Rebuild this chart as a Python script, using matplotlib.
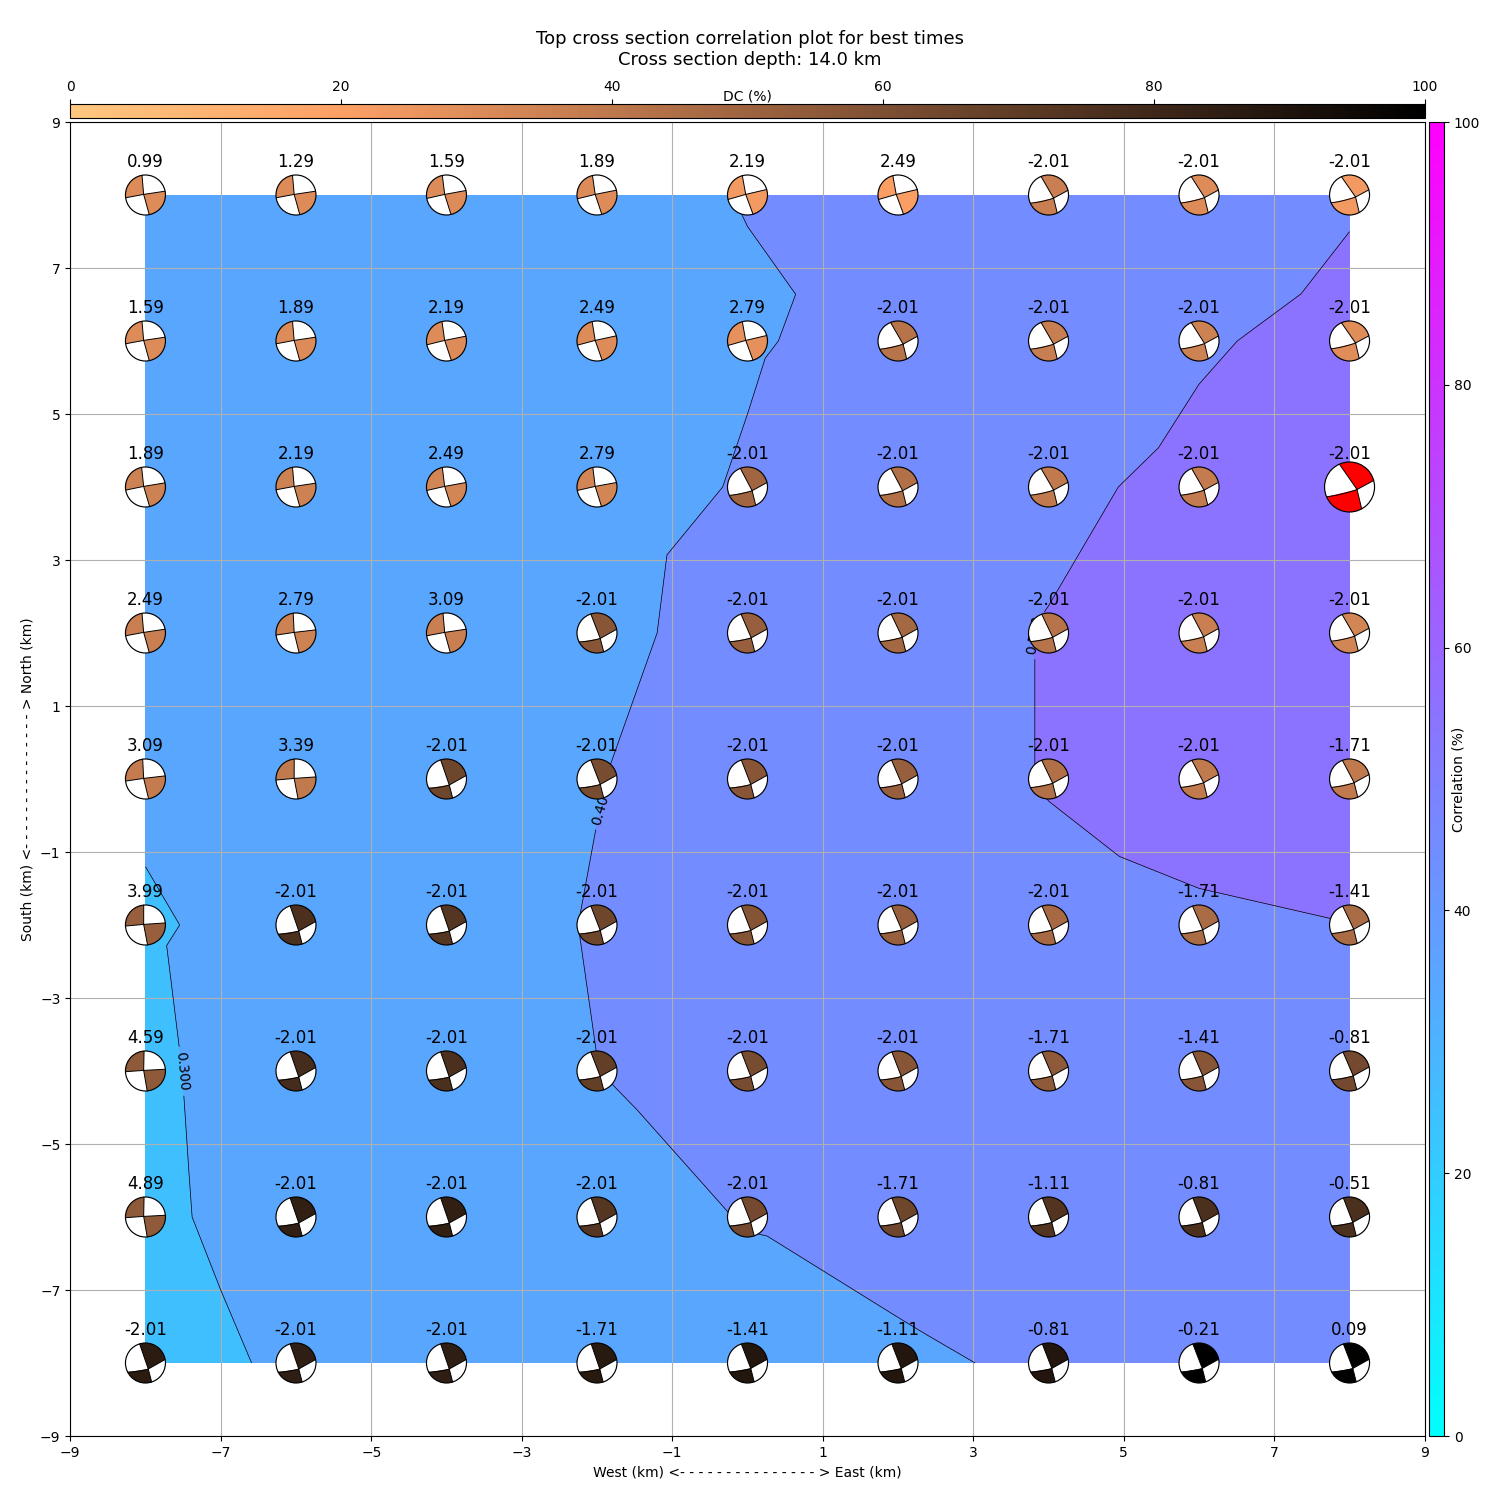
import numpy as np
import matplotlib
matplotlib.use("Agg")
import matplotlib.pyplot as plt
from matplotlib import cm
from matplotlib.colors import Normalize
from matplotlib.patches import Circle, Polygon
from matplotlib.tri import Triangulation

# grid nodes (km)
x_km = [-8, -6, -4, -2, 0, 2, 4, 6, 8]
y_km = [8, 6, 4, 2, 0, -2, -4, -6, -8]

# correlation at each node, top row first
corr = [
    [.350, .360, .370, .380, .4022, .417, .440, .458, .4933],
    [.350, .360, .370, .380, .392, .431, .456, .4932, .520],
    [.350, .360, .350, .3595, .408, .460, .486, .5162, .540],
    [.340, .355, .360, .369, .4466, .468, .5032, .525, .530],
    [.315, .359, .360, .3957, .450, .468, .5032, .5203, .520],
    [.290, .334, .330, .410, .460, .460, .482, .4932, .4996],
    [.2803, .361, .360, .3989, .470, .460, .470, .480, .480],
    [.2751, .3554, .350, .373, .403, .444, .484, .470, .470],
    [.2404, .3249, .330, .343, .373, .380, .419, .450, .450],
]

# best time shift printed above each mechanism
times = [
    [0.99, 1.29, 1.59, 1.89, 2.19, 2.49, -2.01, -2.01, -2.01],
    [1.59, 1.89, 2.19, 2.49, 2.79, -2.01, -2.01, -2.01, -2.01],
    [1.89, 2.19, 2.49, 2.79, -2.01, -2.01, -2.01, -2.01, -2.01],
    [2.49, 2.79, 3.09, -2.01, -2.01, -2.01, -2.01, -2.01, -2.01],
    [3.09, 3.39, -2.01, -2.01, -2.01, -2.01, -2.01, -2.01, -1.71],
    [3.99, -2.01, -2.01, -2.01, -2.01, -2.01, -2.01, -1.71, -1.41],
    [4.59, -2.01, -2.01, -2.01, -2.01, -2.01, -1.71, -1.41, -0.81],
    [4.89, -2.01, -2.01, -2.01, -2.01, -1.71, -1.11, -0.81, -0.51],
    [-2.01, -2.01, -2.01, -1.71, -1.41, -1.11, -0.81, -0.21, 0.09],
]

# double-couple percentage of each mechanism
dc = [
    [30, 30, 30, 30, 23, 21, 36, 30, 23],
    [30, 30, 30, 30, 27, 42, 37, 35, 29],
    [35, 35, 33, 33, 49, 44, 39, 38, 36],
    [36, 35, 36, 57, 52, 48, 42, 36, 33],
    [38, 39, 65, 62, 57, 52, 44, 39, 39],
    [52, 76, 73, 65, 58, 52, 47, 46, 46],
    [55, 78, 76, 68, 62, 57, 55, 57, 63],
    [55, 84, 84, 73, 63, 65, 74, 76, 76],
    [86, 85, 85, 87, 89, 89, 89, 100, 99],
]

# nodal plane tilt (degrees) of each mechanism
tilt = [
    [10, 10, 12, 13, 15, 15, 22, 23, 24],
    [10, 10, 13, 14, 15, 22, 22, 23, 24],
    [11, 10, 12, 12, 21, 21, 22, 22, 24],
    [10, 8, 10, 18, 19, 20, 20, 21, 22],
    [8, 5, 17, 18, 18, 19, 20, 21, 21],
    [5, 17, 17, 18, 18, 19, 19, 19, 20],
    [4, 17, 17, 18, 18, 18, 19, 19, 19],
    [4, 17, 17, 17, 18, 18, 18, 18, 18],
    [17, 17, 17, 17, 18, 18, 18, 18, 18],
]

best_node = (8, 4)
tick_vals = [-9, -7, -5, -3, -1, 1, 3, 5, 7, 9]
levels = [0.0, .1, .2, .3, .4, .5, .6, .7, .8, .9, 1.0]
label_spots = [(-7.47, -4.0), (-2.02, -0.34), (3.82, 1.98)]

fig = plt.figure(figsize=(15, 15), dpi=100)
FW, FH = 1500.0, 1500.0
LEFT, RIGHT, TOP, BOTTOM = 70.2, 1424.8, 122, 1436
ax = fig.add_axes([LEFT / FW, 1 - BOTTOM / FH, (RIGHT - LEFT) / FW, (BOTTOM - TOP) / FH])

X, Y = np.meshgrid(x_km, y_km)
Z = np.array(corr)
tri = Triangulation(X.ravel(), Y.ravel())
ax.tricontourf(tri, Z.ravel(), levels=levels, cmap="cool", vmin=0, vmax=1)
lines = ax.tricontour(tri, Z.ravel(), levels=levels, colors="k", linewidths=0.5, vmin=0, vmax=1)
ax.set_xlim(-9, 9)
ax.set_ylim(-9, 9)
ax.clabel(lines, fontsize=10, fmt="%.3f", manual=label_spots)
ax.set_xticks(tick_vals)
ax.set_yticks(tick_vals)
ax.grid(True)
ax.set_xlabel("West (km) <- - - - - - - - - - - - - - - > East (km)")
ax.set_ylabel("South (km) <- - - - - - - - - - - - - - - > North (km)")

copper_r = matplotlib.colormaps["copper_r"]
px_x = (RIGHT - LEFT) / 18.0
px_y = (BOTTOM - TOP) / 18.0


def rim(a):
    a = np.radians(a)
    return np.array([np.cos(a), np.sin(a)])


def arc(a, b):
    t = np.radians(np.linspace(a, b, 40))
    return np.column_stack([np.cos(t), np.sin(t)])


def draw_ball(cx, cy, face, t, positive, r_px):
    hw = 1.08 * r_px / px_x
    hh = 1.08 * r_px / px_y
    ia = ax.inset_axes([cx - hw, cy - hh, 2 * hw, 2 * hh], transform=ax.transData)
    ia.set_xlim(-1.08, 1.08)
    ia.set_ylim(-1.08, 1.08)
    ia.set_aspect("equal")
    ia.axis("off")
    ia.add_patch(Circle((0, 0), 1, fc="w", ec="none"))
    if positive:
        top, right, left, bottom = 90 + t, t + 1, 178 + t, 271 + t
        c = np.array([-0.09, 0.03])
        spans = [(top, left), (bottom, 360 + right)]
        bulge = 0.0
    else:
        f = (t - 17) / 7.0
        top, right, left, bottom = 107 + 7 * f, 10 + 5 * f, 207 - 4 * f, 288 + 11 * f
        c = np.array([0.14 + 0.16 * f, -0.30 + 0.20 * f])
        spans = [(right, top), (left, bottom)]
        bulge = 0.07
    for a, b in spans:
        ia.add_patch(Polygon(np.vstack([c, arc(a, b)]), closed=True, fc=face, ec="none"))
    for a in (top, right, left, bottom):
        p = rim(a)
        s = np.linspace(0, 1, 15)[:, None]
        ctrl = (p + c) / 2
        if a == left:
            ctrl = ctrl + np.array([0, -bulge])
        path = (1 - s) ** 2 * p + 2 * s * (1 - s) * ctrl + s ** 2 * c
        ia.plot(path[:, 0], path[:, 1], color="k", lw=0.7, solid_capstyle="round")
    ia.add_patch(Circle((0, 0), 1, fc="none", ec="k", lw=0.85))


for i, yv in enumerate(y_km):
    for j, xv in enumerate(x_km):
        val = times[i][j]
        is_best = (xv, yv) == best_node
        face = "r" if is_best else copper_r(dc[i][j] / 100.0)
        draw_ball(xv, yv, face, tilt[i][j], val > 0.5, 25 if is_best else 20)
        ax.text(xv, yv + 33 / px_y, f"{val:.2f}", ha="center", va="center", fontsize=12, zorder=6)

# DC colour bar above the map
cax_top = fig.add_axes([LEFT / FW, 1 - 118 / FH, (RIGHT - LEFT) / FW, 14 / FH])
cb1 = fig.colorbar(cm.ScalarMappable(Normalize(0, 100), "copper_r"), cax=cax_top, orientation="horizontal")
cb1.set_ticks([0, 20, 40, 60, 80, 100])
cax_top.xaxis.set_ticks_position("top")
cax_top.text(0.5, 1.0, "DC (%)", transform=cax_top.transAxes, ha="center", va="bottom", fontsize=10)

# correlation colour bar to the right
cax_right = fig.add_axes([1429 / FW, 1 - BOTTOM / FH, 15 / FW, (BOTTOM - TOP) / FH])
cb2 = fig.colorbar(cm.ScalarMappable(Normalize(0, 100), "cool"), cax=cax_right)
cb2.set_ticks([0, 20, 40, 60, 80, 100])
cb2.set_label("Correlation (%)", labelpad=-20.5)

fig.suptitle("Top cross section correlation plot for best times\nCross section depth: 14.0 km",
             fontsize=13, y=1 - 30 / FH, va="top", x=0.5)
fig.savefig("out.png", dpi=100)
